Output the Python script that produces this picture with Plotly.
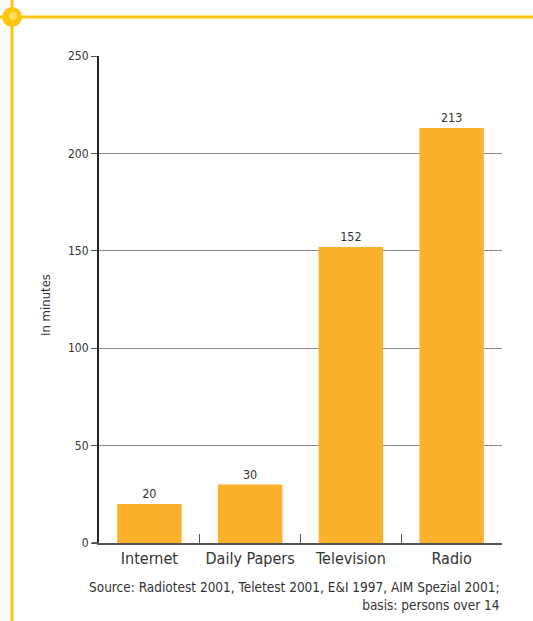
import plotly.graph_objects as go

# Daily media usage, minutes per day
categories = ["Internet", "Daily Papers", "Television", "Radio"]
minutes = [20, 30, 152, 213]
y_ticks = [0, 50, 100, 150, 200, 250]

BAR = "#FCB12C"
ACCENT = "#FFC40F"
TEXT = "#333333"
FONT = "DejaVu Sans Condensed, Liberation Sans Narrow, sans-serif"

W, H = 533, 621
L, R, T, B = 99, 31, 56, 78
pw, ph = W - L - R, H - T - B


def px(x):
    return (x - L) / pw


def py(y):
    return (H - B - y) / ph


fig = go.Figure(
    go.Bar(
        x=categories,
        y=minutes,
        marker=dict(color=BAR, line=dict(width=0)),
        text=[str(v) for v in minutes],
        textposition="outside",
        textfont=dict(size=12.5, color=TEXT, family=FONT),
        cliponaxis=False,
        width=0.64,
    )
)

shapes = [
    # decorative frame lines
    dict(type="line", xref="paper", yref="paper", x0=px(12), x1=px(12), y0=py(0), y1=py(H),
         line=dict(color=ACCENT, width=3), layer="below"),
    dict(type="line", xref="paper", yref="paper", x0=px(0), x1=px(W), y0=py(17), y1=py(17),
         line=dict(color=ACCENT, width=3), layer="below"),
    dict(type="circle", xref="paper", yref="paper", xsizemode="pixel", ysizemode="pixel",
         xanchor=px(12), yanchor=py(17), x0=-10, x1=10, y0=-10, y1=10,
         fillcolor=ACCENT, line=dict(width=0)),
    dict(type="circle", xref="paper", yref="paper", xsizemode="pixel", ysizemode="pixel",
         xanchor=px(13), yanchor=py(16), x0=-4, x1=4, y0=-4, y1=4,
         fillcolor="#FFDD60", line=dict(width=0)),
    # baseline extends slightly left of the value axis
    dict(type="line", xref="paper", yref="paper", x0=px(92), x1=px(99), y0=0, y1=0,
         line=dict(color="#555555", width=2)),
]

fig.update_layout(
    width=W,
    height=H,
    margin=dict(l=L, r=R, t=T, b=B),
    paper_bgcolor="white",
    plot_bgcolor="white",
    showlegend=False,
    font=dict(family=FONT, color=TEXT, size=12),
    shapes=shapes,
    annotations=[
        dict(xref="paper", yref="paper", x=px(502), y=py(577), xanchor="right", yanchor="top",
             align="right", showarrow=False,
             text="Source: Radiotest 2001, Teletest 2001, E&I 1997, AIM Spezial 2001;<br>basis: persons over 14",
             font=dict(size=13.5, color=TEXT, family=FONT)),
        dict(xref="paper", yref="paper", x=px(45), y=py(305), xanchor="center", yanchor="middle",
             textangle=-90, showarrow=False, text="In minutes",
             font=dict(size=13, color=TEXT, family=FONT)),
    ],
    xaxis=dict(
        showgrid=False,
        showline=True,
        linecolor="#555555",
        linewidth=2,
        ticks="inside",
        tickson="boundaries",
        ticklen=9,
        tickcolor="#555555",
        tickwidth=1,
        tickfont=dict(size=16, color=TEXT),
        range=[-0.5, 3.5],
    ),
    yaxis=dict(
        range=[0, 250],
        tickvals=y_ticks,
        showgrid=True,
        gridcolor="#8a8a8a",
        gridwidth=1,
        showline=True,
        linecolor="#222222",
        linewidth=2,
        ticks="outside",
        ticklen=6,
        tickcolor="#555555",
        tickfont=dict(size=12, color=TEXT),
        zeroline=False,
    ),
)

fig.write_html("out.html")
